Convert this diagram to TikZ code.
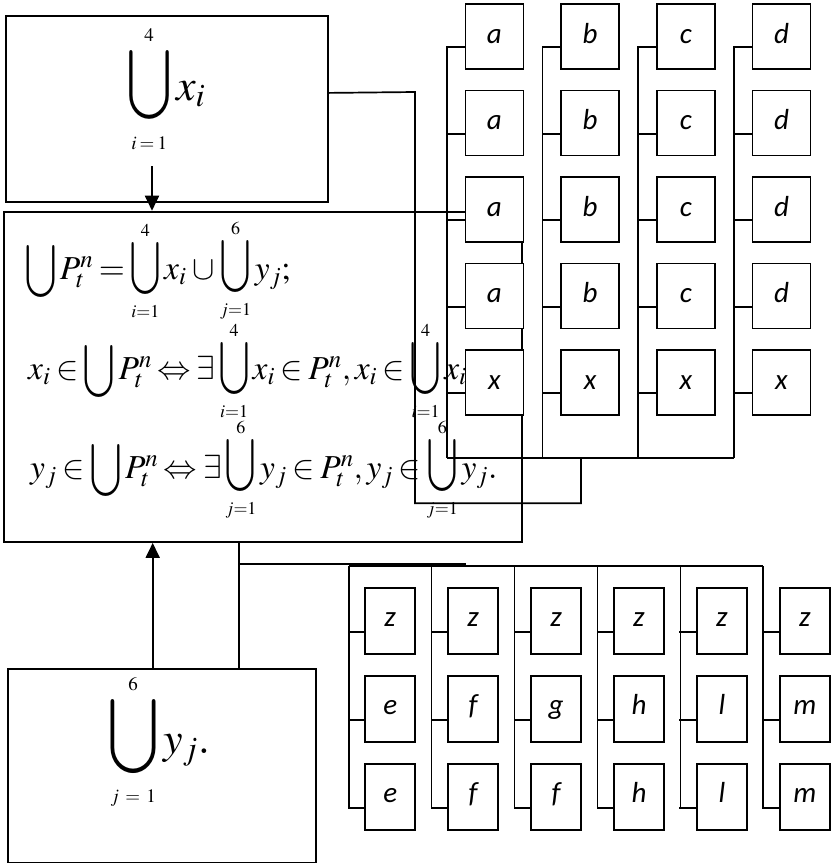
\documentclass[tikz,border=0pt]{standalone}
\usepackage{graphicx}
\usepackage{mathptmx}
\usepackage[no-math]{fontspec}
\newfontfamily\labfont{Carlito}
\usetikzlibrary{arrows.meta}
% #1 cup width, #2 cup height, #3 limit font size, #4 gap above cup, #5 gap below cup, #6 lower, #7 upper
\newcommand\bigUU[7]{\mathop{\vcenter{\offinterlineskip\halign{\hfil##\hfil\cr
  \hbox{\fontsize{#3}{#3}\selectfont$#7$}\cr\noalign{\kern#4}
  \hbox{\resizebox{#1}{#2}{$\displaystyle\bigcup$}}\cr\noalign{\kern#5}
  \hbox{\fontsize{#3}{#3}\selectfont$#6$}\cr}}}}
\newcommand\cupM{\mathop{\vcenter{\hbox{\resizebox{31pt}{40pt}{$\displaystyle\bigcup$}}}}}
\newcommand\UM[2]{\bigUU{30pt}{40pt}{18pt}{2pt}{7pt}{#1}{#2}}
\tikzset{
  bigbox/.style={draw, line width=1.9pt, inner sep=0pt, anchor=north west},
  cell/.style={draw, line width=1.8pt, fill=white, inner sep=0pt,
    font=\labfont\itshape\fontsize{29}{32}\selectfont, text depth=0pt},
  topcell/.style={cell, minimum width=58pt, minimum height=65pt, text height=13pt},
  botcell/.style={cell, minimum width=50pt, minimum height=66pt, text height=10.6pt},
  wire/.style={line width=1.7pt},
  arr/.style={line width=1.9pt, -{Triangle[length=15pt,width=14pt]}},
  fml/.style={inner sep=0pt, anchor=west},
  midf/.style={fml, font=\fontsize{33.5}{38}\selectfont, execute at begin node={\thickmuskip=3mu plus 2mu\medmuskip=3mu plus 1mu}}
}
\begin{document}
\begin{tikzpicture}[x=1pt,y=-1pt]
\useasboundingbox (0,0) rectangle (831,863);

% main boxes
\node[bigbox, minimum width=322pt, minimum height=185.7pt] (T) at (5,15) {};
\node[bigbox, minimum width=517.7pt, minimum height=330.3pt] (M) at (3,210.7) {};
\node[bigbox, minimum width=307.7pt, minimum height=194.3pt] (B) at (7.3,667.7) {};

% formulas
\node[fml, font=\fontsize{44}{50}\selectfont] (tf) at (127,89) {$\bigUU{44pt}{53pt}{19pt}{5pt}{12pt}{i\mskip3mu{=}\mskip3mu1}{4} x_i$};
\node[fml, font=\fontsize{44}{50}\selectfont] (bf) at (108,742) {$\bigUU{50pt}{57pt}{19pt}{4pt}{11pt}{j\mskip6mu{=}\mskip6mu1}{6} y_j.$};
\node[midf] (f1) at (25,271) {$\cupM P_t^n = \UM{i{=}1}{4} x_i \cup \UM{j{=}1}{6} y_j;$};
\node[midf] (f2) at (28,371) {$x_i \in \cupM P_t^n \Leftrightarrow \exists \UM{i{=}1}{4} x_i \in P_t^n, x_i \in \UM{i{=}1}{4} x_i$};
\node[midf] (f3) at (30,470) {$y_j \in \cupM P_t^n \Leftrightarrow \exists \UM{j{=}1}{6} y_j \in P_t^n, y_j \in \UM{j{=}1}{6} y_j.$};

% arrows
\coordinate (ta) at (152,166);
\draw[arr] (ta) -- (ta |- M.north);
\coordinate (ba) at (152.7,0);
\draw[arr] (ba |- B.north) -- (ba |- M.south);

% connector from bottom box
\coordinate (bc) at (239,0);
\draw[wire] (bc |- B.north) -- (bc |- M.south);
\draw[wire] (239,564.3) -- (465.7,564.3);

% connector from top box
\draw[wire] ([yshift=15.9pt]T.east) -- (415,92) -- (415,503.3) -- (581,503.3) -- (581,458.3);

% top grid
\draw[wire] (446.7,458.3) -- (733.8,458.3);
\foreach \c/\L in {0/a,1/b,2/c,3/d}{
  \pgfmathsetmacro\bx{446.7+95.7*\c}
  \draw[wire] (\bx,47.3) -- (\bx,458.3);
  \foreach \r in {0,...,4}{
    \pgfmathsetmacro\cy{36.5+86.5*\r}
    \node[topcell] (g\c\r) at (\bx+47.7,\cy) {\ifnum\r=4 x\else\L\fi};
    \draw[wire] ([yshift=-10.8pt]g\c\r.west) -- ++(-18.7,0);
  }
}

% bottom grid
\draw[wire] (348.7,566) -- (763.3,566);
\foreach \c/\La/\Lb in {0/e/e,1/f/f,2/g/f,3/h/h,4/l/l,5/m/m}{
  \pgfmathsetmacro\bx{348.7+82.92*\c}
  \draw[wire] (\bx,566) -- (\bx,807.7);
  \foreach \r/\t in {0/z,1/\La,2/\Lb}{
    \pgfmathsetmacro\cy{620.7+88.15*\r}
    \node[botcell] (h\c\r) at (\bx+41.5,\cy) {\t};
    \draw[wire] ([yshift=-11pt]h\c\r.west) -- ++(-16.5,0);
  }
}
\end{tikzpicture}
\end{document}
